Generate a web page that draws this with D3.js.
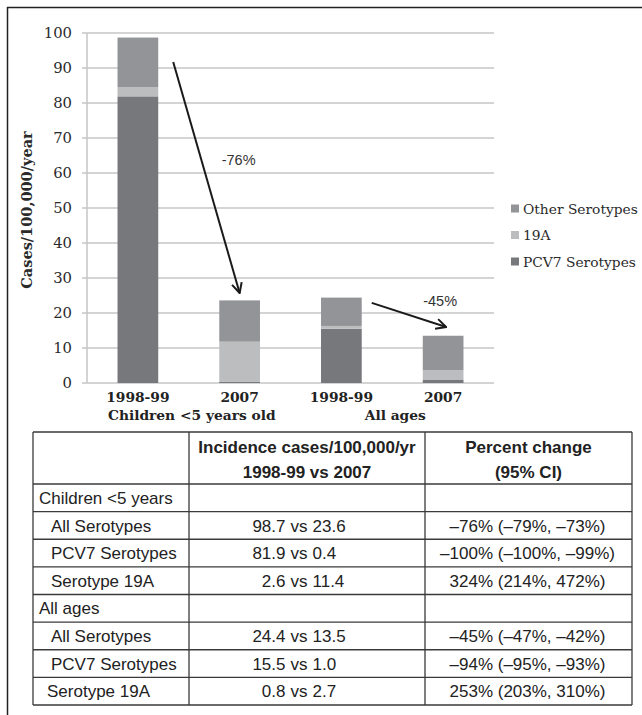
<!DOCTYPE html>
<html>
<head>
<meta charset="utf-8">
<script src="https://cdn.jsdelivr.net/npm/d3@7"></script>
<style>
  html, body { margin: 0; padding: 0; background: #fff; }
  svg { display: block; }
</style>
</head>
<body>
<svg id="chart" width="642" height="715"></svg>
<script>
// ---------- DATA ----------
const periods = ["1998-99", "2007", "1998-99", "2007"];
const groups = ["Children <5 years old", "All ages"];
const pcv7Values = [81.9, 0.4, 15.5, 1.0];
const s19aValues = [2.6, 11.4, 0.8, 2.7];
const otherValues = [14.2, 11.8, 8.1, 9.8];
const seriesNames = ["PCV7 Serotypes", "19A", "Other Serotypes"];
const yTicks = [0, 10, 20, 30, 40, 50, 60, 70, 80, 90, 100];
const changeLabels = ["-76%", "-45%"];

const tableHeader1 = ["", "Incidence cases/100,000/yr", "Percent change"];
const tableHeader2 = ["", "1998-99 vs 2007", "(95% CI)"];
const tableLabels = ["Children <5 years", "All Serotypes", "PCV7 Serotypes", "Serotype 19A",
                     "All ages", "All Serotypes", "PCV7 Serotypes", "Serotype 19A"];
const tableIncidence = ["", "98.7 vs 23.6", "81.9 vs 0.4", "2.6 vs 11.4",
                        "", "24.4 vs 13.5", "15.5 vs 1.0", "0.8 vs 2.7"];
const tablePercent = ["", "–76% (–79%, –73%)", "–100% (–100%, –99%)", "324% (214%, 472%)",
                      "", "–45% (–47%, –42%)", "–94% (–95%, –93%)", "253% (203%, 310%)"];

// ---------- SETUP ----------
const svg = d3.select("#chart");
const colors = { "PCV7 Serotypes": "#77787b", "19A": "#bcbdbf", "Other Serotypes": "#939497" };
const serif = "'DejaVu Serif', serif";
const sans = "'Liberation Sans', Arial, sans-serif";

// outer frame
svg.append("line").attr("x1", 7).attr("x2", 642).attr("y1", 7.5).attr("y2", 7.5)
  .attr("stroke", "#222").attr("stroke-width", 1.5);
svg.append("line").attr("x1", 7.5).attr("x2", 7.5).attr("y1", 7).attr("y2", 715)
  .attr("stroke", "#222").attr("stroke-width", 1.5);

// scales
const plot = { left: 87, right: 494, top: 33, bottom: 383 };
const x = d3.scaleBand().domain(d3.range(periods.length))
  .range([plot.left, plot.right]).paddingInner(0.6).paddingOuter(0.3);
const y = d3.scaleLinear().domain([0, 100]).range([plot.bottom, plot.top]);

// gridlines
svg.append("g").selectAll("line").data(yTicks).join("line")
  .attr("x1", plot.left - 5).attr("x2", plot.right)
  .attr("y1", d => y(d)).attr("y2", d => y(d))
  .attr("stroke", "#c6c6c6").attr("stroke-width", 1.5);
// y axis line
svg.append("line").attr("x1", plot.left).attr("x2", plot.left)
  .attr("y1", y(100)).attr("y2", y(0)).attr("stroke", "#c6c6c6").attr("stroke-width", 1.5);

// y tick labels
svg.append("g").selectAll("text").data(yTicks).join("text")
  .attr("x", plot.left - 15).attr("y", d => y(d)).attr("dy", "0.36em")
  .attr("text-anchor", "end").attr("font-family", serif).attr("font-size", 14.8)
  .attr("fill", "#2a2a2a").text(d => d);

// y axis title
svg.append("text")
  .attr("transform", `translate(32,${(y(0) + y(100)) / 2 + 2}) rotate(-90)`)
  .attr("text-anchor", "middle").attr("font-family", serif).attr("font-weight", "bold")
  .attr("font-size", 14.5).attr("fill", "#2a2a2a").text("Cases/100,000/year");

// stacked bars
const rows = periods.map((p, i) => ({
  i, "PCV7 Serotypes": pcv7Values[i], "19A": s19aValues[i], "Other Serotypes": otherValues[i]
}));
const stack = d3.stack().keys(seriesNames)(rows);
svg.append("g").selectAll("g").data(stack).join("g")
  .attr("fill", s => colors[s.key])
  .selectAll("rect").data(s => s).join("rect")
  .attr("x", d => x(d.data.i)).attr("width", x.bandwidth())
  .attr("y", d => y(d[1])).attr("height", d => y(d[0]) - y(d[1]));

// x labels
svg.append("g").selectAll("text").data(periods).join("text")
  .attr("x", (d, i) => x(i) + x.bandwidth() / 2).attr("y", 402)
  .attr("text-anchor", "middle").attr("font-family", serif).attr("font-weight", "bold")
  .attr("font-size", 13.8).attr("fill", "#222").text(d => d);
svg.append("g").selectAll("text").data(groups).join("text")
  .attr("x", (d, g) => (x(2 * g) + x(2 * g + 1) + x.bandwidth()) / 2 + 3)
  .attr("y", 420)
  .attr("text-anchor", "middle").attr("font-family", serif).attr("font-weight", "bold")
  .attr("font-size", 13.8).attr("fill", "#222").text(d => d);

// legend
const legendOrder = seriesNames.slice().reverse();
const lg = svg.append("g").selectAll("g").data(legendOrder).join("g")
  .attr("transform", (d, i) => `translate(511,${209 + i * 26.5})`);
lg.append("rect").attr("x", 0).attr("y", -4.5).attr("width", 8).attr("height", 8)
  .attr("fill", d => colors[d]);
lg.append("text").attr("x", 12).attr("y", 0).attr("dy", "0.36em")
  .attr("font-family", serif).attr("font-size", 13.8).attr("fill", "#2a2a2a").text(d => d);

// arrows
const defs = svg.append("defs");
defs.append("marker").attr("id", "arr").attr("viewBox", "0 0 12 12")
  .attr("refX", 11).attr("refY", 6).attr("markerWidth", 12).attr("markerHeight", 12)
  .attr("markerUnits", "userSpaceOnUse").attr("orient", "auto")
  .append("path").attr("d", "M1,1 L11,6 L1,11").attr("fill", "none")
  .attr("stroke", "#1a1a1a").attr("stroke-width", 2);

const arrows = [
  { x1: x(0) + x.bandwidth() + 15, y1: y(91.7), x2: x(1) + x.bandwidth() / 2, y2: y(25.7),
    lx: x(1) + x.bandwidth() / 2 - 1, ly: y(63.7), label: changeLabels[0] },
  { x1: x(2) + x.bandwidth() + 10, y1: y(22.9), x2: x(3) + x.bandwidth() / 2 + 3, y2: y(16),
    lx: x(3) + x.bandwidth() / 2 - 3, ly: y(23.4), label: changeLabels[1] }
];
svg.append("g").selectAll("line").data(arrows).join("line")
  .attr("x1", d => d.x1).attr("y1", d => d.y1).attr("x2", d => d.x2).attr("y2", d => d.y2)
  .attr("stroke", "#1a1a1a").attr("stroke-width", 2).attr("marker-end", "url(#arr)");
svg.append("g").selectAll("text").data(arrows).join("text")
  .attr("x", d => d.lx).attr("y", d => d.ly).attr("dy", "0.36em")
  .attr("text-anchor", "middle").attr("font-family", sans).attr("font-size", 14.5)
  .attr("fill", "#333").text(d => d.label);

// ---------- TABLE ----------
const tb = { left: 33, right: 632, top: 432, headerBottom: 484, bottom: 705 };
const colX = [tb.left, 189, 425, tb.right];
const rowY = d3.scaleLinear().domain([0, tableLabels.length]).range([tb.headerBottom, tb.bottom]);
const tg = svg.append("g");
const lineColor = "#3a3a3a";
// horizontal lines
const hLines = [tb.top].concat(d3.range(tableLabels.length + 1).map(i => rowY(i)));
tg.selectAll("line.h").data(hLines).join("line").attr("class", "h")
  .attr("x1", tb.left).attr("x2", tb.right).attr("y1", d => d).attr("y2", d => d)
  .attr("stroke", lineColor).attr("stroke-width", 1.3);
tg.selectAll("line.v").data(colX).join("line").attr("class", "v")
  .attr("x1", d => d).attr("x2", d => d).attr("y1", tb.top).attr("y2", tb.bottom)
  .attr("stroke", lineColor).attr("stroke-width", 1.3);

const fs = 17;
// header
[tableHeader1, tableHeader2].forEach((hdr, k) => {
  tg.append("g").selectAll("text").data(hdr).join("text")
    .attr("x", (d, c) => (colX[c] + colX[c + 1]) / 2)
    .attr("y", k === 0 ? 447 : 472).attr("dy", "0.36em")
    .attr("text-anchor", "middle").attr("font-family", sans).attr("font-weight", "bold")
    .attr("font-size", fs).attr("fill", "#222").text(d => d);
});
// label column
const groupRows = new Set([0, 4]);
tg.append("g").selectAll("text").data(tableLabels).join("text")
  .attr("x", (d, i) => groupRows.has(i) ? 39 : (i === 7 ? 47 : 51))
  .attr("y", (d, i) => (rowY(i) + rowY(i + 1)) / 2).attr("dy", "0.36em")
  .attr("font-family", sans).attr("font-size", fs).attr("fill", "#222").text(d => d);
// incidence column, aligned on "vs"
const vsX = 299;
const incG = tg.append("g").selectAll("g").data(tableIncidence).join("g")
  .attr("transform", (d, i) => `translate(0,${(rowY(i) + rowY(i + 1)) / 2})`)
  .filter(d => d !== "");
incG.append("text").attr("x", vsX - 13.5).attr("dy", "0.36em").attr("text-anchor", "end")
  .attr("font-family", sans).attr("font-size", fs).attr("fill", "#222")
  .text(d => d.split(" vs ")[0]);
incG.append("text").attr("x", vsX).attr("dy", "0.36em").attr("text-anchor", "middle")
  .attr("font-family", sans).attr("font-size", fs).attr("fill", "#222").text("vs");
incG.append("text").attr("x", vsX + 13.5).attr("dy", "0.36em").attr("text-anchor", "start")
  .attr("font-family", sans).attr("font-size", fs).attr("fill", "#222")
  .text(d => d.split(" vs ")[1]);
// percent column
tg.append("g").selectAll("text").data(tablePercent).join("text")
  .attr("x", (colX[2] + colX[3]) / 2 - 1)
  .attr("y", (d, i) => (rowY(i) + rowY(i + 1)) / 2).attr("dy", "0.36em")
  .attr("text-anchor", "middle").attr("font-family", sans).attr("font-size", fs)
  .attr("fill", "#222").text(d => d);
</script>
</body>
</html>
